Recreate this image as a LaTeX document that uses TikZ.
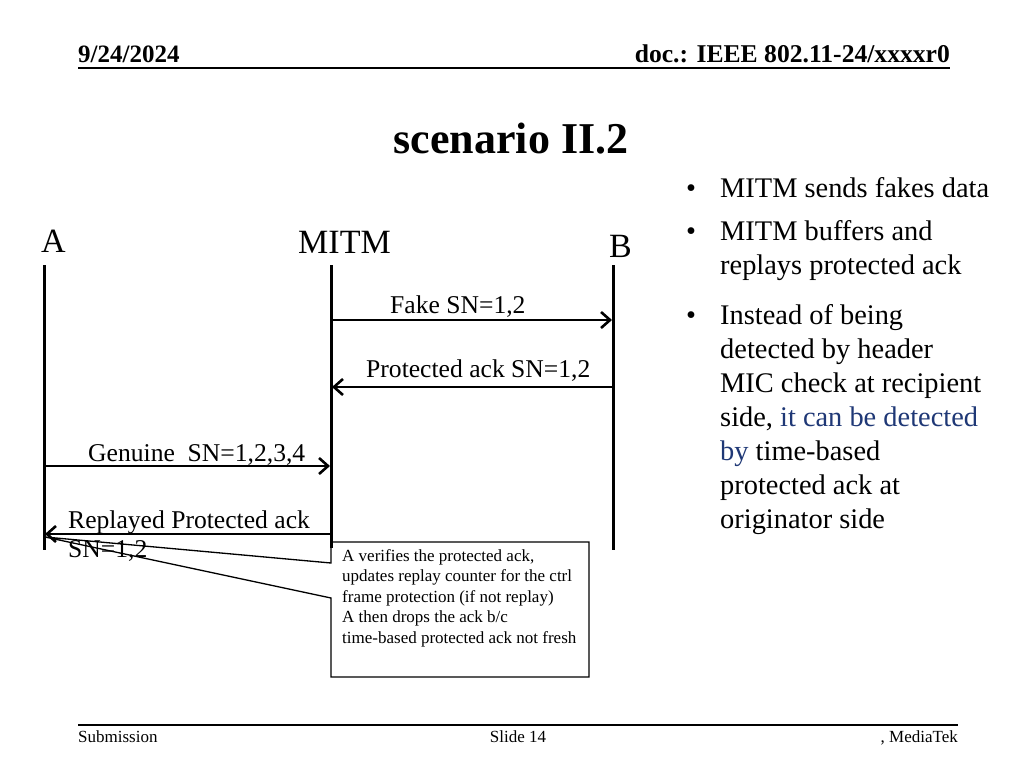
\documentclass[tikz,border=0pt]{standalone}
\usepackage{fontspec}
\setmainfont{Liberation Serif}
\usetikzlibrary{arrows.meta}
\definecolor{navy}{RGB}{31,56,118}
\begin{document}
\begin{tikzpicture}[x=1pt,y=-1pt,
  lifeline/.style={line width=3pt},
  msg/.style={line width=2.8pt,-{Straight Barb[length=9pt,width=16pt,line width=2.6pt]}},
  lbl/.style={anchor=base west,inner sep=0pt,font=\fontsize{25.6}{30}\selectfont},
  actor/.style={anchor=base west,inner sep=0pt,font=\fontsize{34}{40}\selectfont},
  bul/.style={anchor=base west,inner sep=0pt,font=\fontsize{28.4}{34}\selectfont},
  foot/.style={inner sep=0pt,font=\fontsize{17}{20}\selectfont},
  rule/.style={line width=1.6pt}]
\useasboundingbox (0,0) rectangle (1024,768);
\fill[white] (0,0) rectangle (1024,768);

% header
\node[anchor=base west,inner sep=0pt,font=\fontsize{25}{30}\selectfont\bfseries] (date) at (78,63) {9/24/2024};
\node[anchor=base east,inner sep=0pt,font=\fontsize{25.6}{30}\selectfont\bfseries] (doc) at (950,63) {doc.: IEEE 802.11-24/xxxxr0};
\coordinate (hl) at (78,68); \coordinate (hr) at (950,68);
\draw[rule] (hl) -- (hr);

% title
\node[anchor=base,inner sep=0pt,font=\fontsize{44}{50}\selectfont\bfseries] (title) at (511,153) {scenario II.2};

% footer
\coordinate (fl) at (78,725); \coordinate (fr) at (958,725);
\draw[rule] (fl) -- (fr);
\node[foot,anchor=base west] (sub) at (78,742) {Submission};
\node[foot,anchor=base] (slide) at (518,742) {Slide 14};
\node[foot,anchor=base east] (mt) at (958,742) {, MediaTek};

% actors
\node[actor] (A) at (41,252) {A};
\node[actor] (M) at (298,253) {MITM};
\node[actor] (B) at (609,257) {B};

% lifelines
\coordinate (At) at (44,265); \coordinate (Ab) at (44,550);
\coordinate (Mt) at (331,265); \coordinate (Mb) at (331,548);
\coordinate (Bt) at (613,265); \coordinate (Bb) at (613,550);
\draw[lifeline] (At) -- (Ab);
\draw[lifeline] (Mt) -- (Mb);
\draw[lifeline] (Bt) -- (Bb);

% messages
\coordinate (m1s) at (331,320); \coordinate (m1e) at (612,320);
\draw[msg] (m1s) -- (m1e);
\node[lbl] (l1) at (390,313) {Fake SN=1,2};

\coordinate (m2s) at (613,387); \coordinate (m2e) at (332,387);
\draw[msg] (m2s) -- (m2e);
\node[lbl] (l2) at (366,377) {Protected ack SN=1,2};

\coordinate (m3s) at (44,466); \coordinate (m3e) at (330,466);
\draw[msg] (m3s) -- (m3e);
\node[lbl] (l3) at (88,461) {Genuine\ \ SN=1,2,3,4};

\coordinate (m4s) at (331,534); \coordinate (m4e) at (45,534);
\draw[msg] (m4s) -- (m4e);
\node[lbl] (l4) at (68,528) {Replayed Protected ack};
\node[lbl] (l5) at (68,557) {SN=1,2};

% callout
\coordinate (tip) at (45,537);
\draw[line width=1.3pt] (331,542) -- (589,542) -- (589,677) -- (331,677) -- (331,598) -- (tip) -- (331,563) -- cycle;
\node[anchor=north west,inner sep=0pt,align=left,font=\fontsize{17}{20.5}\selectfont] (note) at (342,549)
 {A verifies the protected ack,\\updates replay counter for the ctrl\\frame protection (if not replay)\\A then drops the ack b/c\\time-based protected ack not fresh};

% bullets
\foreach \y in {197,240,324} \node[bul] at (686,\y) {•};
\node[bul] (b1) at (720,197) {MITM sends fakes data};
\node[bul] (b2) at (720,240) {MITM buffers and};
\node[bul] (b3) at (720,274) {replays protected ack};
\node[bul] (b4) at (720,324) {Instead of being};
\node[bul] (b5) at (720,358) {detected by header};
\node[bul] (b6) at (720,392) {MIC check at recipient};
\node[bul] (b7) at (720,426) {side, \textcolor{navy}{it can be detected}};
\node[bul] (b8) at (720,460) {\textcolor{navy}{by} time-based};
\node[bul] (b9) at (720,494) {protected ack at};
\node[bul] (b10) at (720,528) {originator side};
\end{tikzpicture}
\end{document}
